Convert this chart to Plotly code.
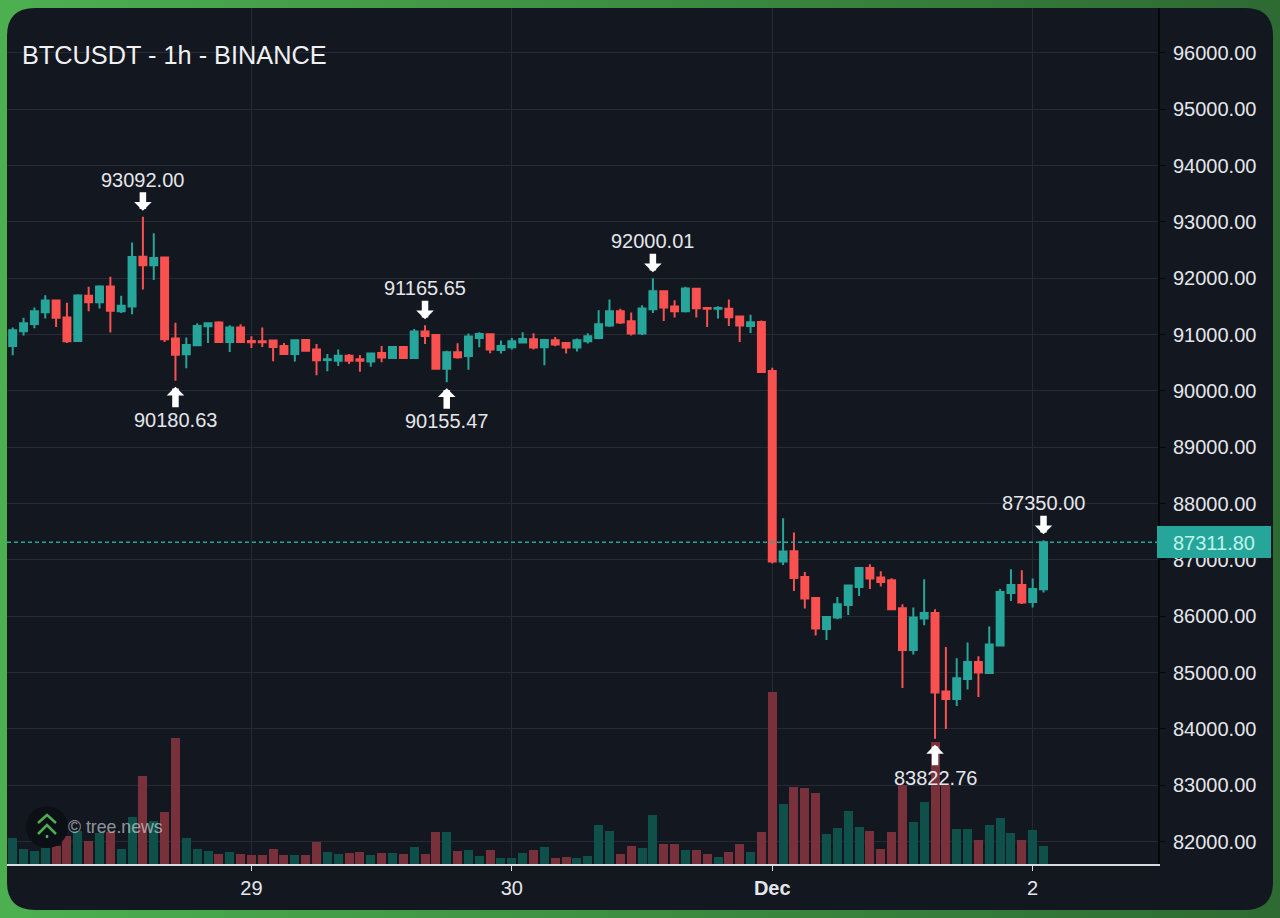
import pandas as pd
import plotly.graph_objects as go

_UP = "#26a69a"
_DOWN = "#f95050"
_UP_VOL = "#0f514a"
_DOWN_VOL = "#78303a"
_PANEL = "#131720"
_GRID = "#252a34"
_TEXT = "#e4e6ea"
_FONT = "Liberation Sans"
_FRAME_LEFT = (76, 175, 80)
_FRAME_RIGHT = (46, 107, 51)

opens = [
    90798, 91059, 91190, 91397, 91605, 91302, 90887, 91688, 91575, 91854, 91415, 91498,
    92382, 92233, 92370, 90929, 90650, 90810, 91148, 91213, 90870, 91125, 90887, 90881,
    90893, 90798, 90656, 90905, 90733, 90549, 90537, 90626, 90561, 90520, 90674, 90585,
    90781, 90585, 91053, 90994, 90395, 90686, 90620, 90941, 91006, 90727, 90775, 90858,
    90917, 90775, 90899, 90852, 90769, 90881, 90941, 91160, 91415, 91237, 91018, 91451,
    91771, 91498, 91415, 91812, 91474, 91457, 91457, 91320, 91154, 91225, 90354, 86970,
    87154, 86698, 86325, 85775, 85976, 86201, 86520, 86858, 86686, 86639, 86142, 85402,
    85958, 86059, 84662, 84531, 84887, 85188, 84993, 85479, 86414, 86556, 86254, 86479,
]
closes = [
    91077, 91202, 91415, 91605, 91297, 90881, 91694, 91575, 91854, 91421, 91510, 92376,
    92233, 92358, 90917, 90644, 90816, 91154, 91202, 90870, 91125, 90870, 90864, 90864,
    90781, 90656, 90899, 90715, 90543, 90561, 90626, 90537, 90537, 90662, 90591, 90781,
    90585, 91053, 90976, 90395, 90686, 90597, 90964, 91012, 90733, 90798, 90881, 90923,
    90769, 90905, 90822, 90769, 90899, 90970, 91184, 91415, 91213, 91018, 91463, 91771,
    91480, 91415, 91818, 91468, 91457, 91474, 91308, 91160, 91219, 90336, 86970, 87148,
    86680, 86313, 85780, 85985, 86213, 86544, 86858, 86668, 86609, 86124, 85402, 85976,
    86059, 84644, 84531, 84898, 85188, 84999, 85496, 86432, 86556, 86242, 86485, 87311.8,
]
highs = [
    91125, 91297, 91480, 91700, 91611, 91563, 91718, 91848, 91878, 92026, 91688, 92637,
    93092, 92797, 92382, 91208, 90947, 91202, 91219, 91237, 91166, 91184, 90970, 91125,
    90905, 90852, 90911, 90923, 90834, 90656, 90733, 90656, 90638, 90668, 90798, 90798,
    90792, 91101, 91165.65, 91000, 90715, 90846, 91018, 91042, 91012, 90893, 90941, 91042,
    91024, 90911, 90958, 90858, 90929, 91024, 91433, 91623, 91457, 91391, 91522, 92000.01,
    91777, 91611, 91848, 91818, 91480, 91504, 91623, 91332, 91350, 91249, 90413, 87740,
    87485, 86787, 86331, 85988, 86343, 86550, 86864, 86923, 86799, 86674, 86213, 86153,
    86657, 86124, 85455, 85254, 85532, 85289, 85816, 86485, 86834, 86816, 86668, 87350,
]
lows = [
    90632, 90982, 91113, 91285, 91136, 90852, 90881, 91415, 91463, 91036, 91385, 91362,
    91801, 91967, 90870, 90180.63, 90401, 90804, 90852, 90864, 90692, 90864, 90763, 90781,
    90526, 90638, 90520, 90704, 90277, 90348, 90443, 90478, 90342, 90431, 90508, 90573,
    90579, 90585, 90834, 90389, 90155.47, 90573, 90377, 90775, 90668, 90662, 90733, 90840,
    90733, 90454, 90792, 90662, 90698, 90840, 90917, 91136, 91190, 90982, 90994, 91385,
    91243, 91302, 91391, 91302, 91136, 91285, 91154, 90870, 91030, 90324, 86935, 86911,
    86449, 86136, 85656, 85579, 85946, 86023, 86361, 86485, 86526, 86112, 84727, 85319,
    85840, 83822.76, 83999, 84407, 84697, 84567, 84985, 85467, 86272, 86219, 86153, 86420,
]
volumes = [
    78, 46, 38, 49, 54, 84, 98, 70, 92, 97, 46, 140,
    263, 128, 156, 377, 78, 45, 40, 30, 36, 30, 27, 27,
    45, 27, 27, 27, 65, 35, 30, 32, 37, 27, 32, 32,
    30, 51, 31, 95, 96, 38, 43, 24, 41, 18, 18, 32,
    41, 51, 17, 21, 18, 24, 116, 99, 30, 54, 48, 146,
    59, 59, 41, 41, 31, 21, 35, 59, 35, 95, 515, 180,
    232, 228, 212, 90, 108, 160, 111, 100, 46, 97, 236, 127,
    187, 366, 236, 105, 105, 72, 117, 138, 92, 73, 103, 54,
]

times = pd.date_range("2025-11-28 02:00", periods=96, freq="h")
x_start = "2025-11-28 01:28:30"
x_end = "2025-12-02 11:33:00"

tick_dates = ["2025-11-29", "2025-11-30", "2025-12-01", "2025-12-02"]
tick_labels = ["29", "30", "<b>Dec</b>", "2"]

# index of the candle, price, above or below
callouts = [
    (12, 93092.00, "high"),
    (15, 90180.63, "low"),
    (38, 91165.65, "high"),
    (40, 90155.47, "low"),
    (59, 92000.01, "high"),
    (85, 83822.76, "low"),
    (95, 87350.00, "high"),
]
last_price = 87311.80


def px(x):
    return (x - 7) / 1151


def py(y):
    return (864 - y) / 856


def rounded_panel(x0, y0, x1, y1, r):
    return (
        f"M {px(x0 + r)} {py(y0)} L {px(x1 - r)} {py(y0)} Q {px(x1)} {py(y0)} {px(x1)} {py(y0 + r)} "
        f"L {px(x1)} {py(y1 - r)} Q {px(x1)} {py(y1)} {px(x1 - r)} {py(y1)} "
        f"L {px(x0 + r)} {py(y1)} Q {px(x0)} {py(y1)} {px(x0)} {py(y1 - r)} "
        f"L {px(x0)} {py(y0 + r)} Q {px(x0)} {py(y0)} {px(x0 + r)} {py(y0)} Z"
    )


def polyline(points):
    return "M " + " L ".join(f"{px(a)} {py(b)}" for a, b in points)


def frame_strips(steps=40):
    # the green frame fades from left to right
    strips = []
    for i in range(steps):
        t = i / (steps - 1)
        rgb = [round(a + (b - a) * t) for a, b in zip(_FRAME_LEFT, _FRAME_RIGHT)]
        left = 1280 * i / steps
        strips.append({
            "type": "rect", "xref": "paper", "yref": "paper",
            "x0": px(left), "x1": px(left + 1280 / steps + 1), "y0": py(918), "y1": py(0),
            "fillcolor": f"rgb({rgb[0]},{rgb[1]},{rgb[2]})", "line": {"width": 0}, "layer": "below",
        })
    return strips


fig = go.Figure()

fig.add_trace(go.Bar(
    x=times,
    y=volumes,
    width=2988000,
    marker_color=[_UP_VOL if c >= o else _DOWN_VOL for o, c in zip(opens, closes)],
    marker_line_width=0,
    yaxis="y",
    showlegend=False,
))
fig.add_trace(go.Candlestick(
    x=times,
    open=opens,
    high=highs,
    low=lows,
    close=closes,
    increasing={"line": {"color": _UP, "width": 2}, "fillcolor": _UP},
    decreasing={"line": {"color": _DOWN, "width": 2}, "fillcolor": _DOWN},
    whiskerwidth=0,
    yaxis="y2",
    showlegend=False,
))

shapes = frame_strips() + [
    {"type": "path", "path": rounded_panel(7, 8, 1273, 910, 28), "xref": "paper", "yref": "paper",
     "fillcolor": _PANEL, "line": {"width": 0}, "layer": "below"},
    {"type": "line", "xref": "paper", "x0": 0, "x1": 1, "yref": "y2", "y0": last_price, "y1": last_price,
     "line": {"color": _UP, "width": 1.5, "dash": "4px,3px"}},
    {"type": "rect", "xref": "paper", "x0": px(1157), "x1": px(1271), "yref": "paper",
     "y0": py(558), "y1": py(526), "fillcolor": _UP, "line": {"width": 0}},
    # tree.news logo
    {"type": "circle", "xref": "paper", "yref": "paper", "x0": px(26), "x1": px(68), "y0": py(848), "y1": py(806),
     "fillcolor": "#0c1016", "line": {"width": 0}},
    {"type": "path", "xref": "paper", "yref": "paper", "path": polyline([(38, 823), (47, 815), (56, 823)]),
     "line": {"color": "#4caf50", "width": 2.5}},
    {"type": "path", "xref": "paper", "yref": "paper", "path": polyline([(38, 834), (47, 825), (56, 834)]),
     "line": {"color": "#4caf50", "width": 2.5}},
    {"type": "line", "xref": "paper", "yref": "paper", "x0": px(47), "x1": px(47), "y0": py(835), "y1": py(838),
     "line": {"color": "#4caf50", "width": 2.5}},
]

annotations = [
    {"text": "BTCUSDT - 1h - BINANCE", "xref": "paper", "yref": "paper", "x": px(20), "y": py(55),
     "xanchor": "left", "yanchor": "middle", "showarrow": False, "font": {"size": 25.3, "color": "#f0f1f3"}},
    {"text": "© tree.news", "xref": "paper", "yref": "paper", "x": px(66), "y": py(827),
     "xanchor": "left", "yanchor": "middle", "showarrow": False,
     "font": {"size": 17.7, "color": "rgba(225,228,232,0.62)"}},
    {"text": f"{last_price:.2f}", "xref": "paper", "yref": "paper", "x": px(1171), "y": py(543),
     "xanchor": "left", "yanchor": "middle", "showarrow": False, "font": {"size": 20, "color": "#bff3ea"}},
]
for idx, price, side in callouts:
    annotations.append({
        "text": f"{price:.2f}",
        "x": times[idx],
        "y": price,
        "xref": "x",
        "yref": "y2",
        "ax": 0,
        "ay": -37 if side == "high" else 39,
        "showarrow": True,
        "arrowhead": 1,
        "arrowwidth": 6.5,
        "arrowsize": 0.45,
        "arrowcolor": "white",
        "standoff": 6,
        "font": {"size": 20, "color": _TEXT},
    })

fig.update_layout(
    width=1280,
    height=918,
    margin={"l": 7, "r": 122, "t": 8, "b": 54, "autoexpand": False},
    paper_bgcolor="#3e8e44",
    plot_bgcolor="rgba(0,0,0,0)",
    font={"family": _FONT, "size": 20, "color": _TEXT},
    boxgap=0.36,
    boxgroupgap=0,
    bargap=0,
    shapes=shapes,
    annotations=annotations,
    xaxis={
        "type": "date",
        "range": [x_start, x_end],
        "rangeslider": {"visible": False},
        "tickvals": tick_dates,
        "ticktext": tick_labels,
        "showgrid": True,
        "gridcolor": _GRID,
        "gridwidth": 1,
        "ticks": "outside",
        "ticklen": 5,
        "tickcolor": "#d8dae0",
        "showline": True,
        "linecolor": "#d8dae0",
        "linewidth": 2,
        "tickfont": {"size": 20, "color": _TEXT},
        "zeroline": False,
    },
    yaxis={
        "range": [0, 2568],
        "visible": False,
        "showgrid": False,
        "fixedrange": True,
    },
    yaxis2={
        "range": [81601, 96798],
        "overlaying": "y",
        "side": "right",
        "dtick": 1000,
        "tick0": 82000,
        "tickformat": ".2f",
        "showgrid": True,
        "gridcolor": _GRID,
        "gridwidth": 1,
        "ticks": "outside",
        "ticklen": 6,
        "ticklabelstandoff": 3,
        "tickcolor": "#05070a",
        "showline": True,
        "linecolor": "#05070a",
        "linewidth": 2,
        "tickfont": {"size": 20, "color": _TEXT},
        "zeroline": False,
    },
)

fig.write_html(
    "out.html",
    config={"displayModeBar": False},
    post_script="document.body.style.margin='0';document.body.style.background='#3e8e44';",
)
